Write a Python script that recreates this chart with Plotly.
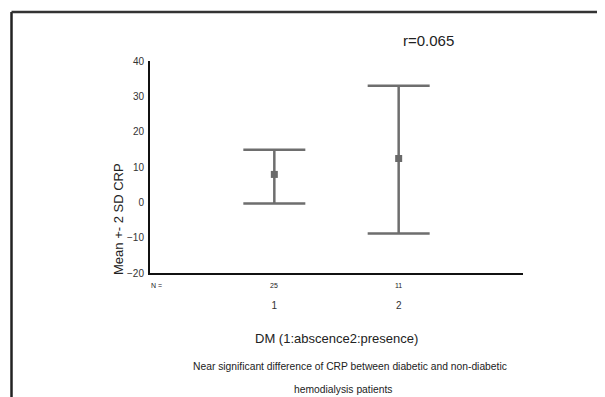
import plotly.graph_objects as go

# page body has an 8px margin; figure sized to fill the rest of the window
OFF = 8
W, H = 605 - OFF, 397 - OFF

groups = [1, 2]
group_labels = ["1", "2"]
n_counts = ["25", "11"]
means = [7.9, 12.4]
upper = [14.9, 33.0]
lower = [-0.3, -8.8]
y_ticks = [-20, -10, 0, 10, 20, 30, 40]

err_plus = [u - m for u, m in zip(upper, means)]
err_minus = [m - l for m, l in zip(means, lower)]


def px(x):
    return (x - OFF) / W


def py(y):
    return 1 - (y - OFF) / H


# plot area in window pixels
X0, X1 = 150, 523
Y0, Y1 = 61, 273

fig = go.Figure()
fig.add_trace(go.Scatter(
    x=groups, y=means, mode="markers",
    marker=dict(symbol="square", size=7, color="#6a6a6a"),
    error_y=dict(type="data", symmetric=False, array=err_plus, arrayminus=err_minus,
                 color="#6e6e6e", thickness=2.5, width=31),
    showlegend=False, hoverinfo="skip",
))

font = "Liberation Sans, Arial, sans-serif"

fig.update_layout(
    width=W, height=H,
    margin=dict(l=0, r=0, t=0, b=0, autoexpand=False),
    paper_bgcolor="white", plot_bgcolor="white",
    font=dict(family=font, color="#222"),
    xaxis=dict(domain=[px(X0), px(X1)], range=[0, 3], tickvals=groups, ticktext=group_labels,
               showgrid=False, zeroline=False, showline=True, linecolor="#111", linewidth=2,
               ticks="", tickfont=dict(size=10, color="#333"), ticklabelstandoff=22),
    yaxis=dict(domain=[py(Y1), py(Y0)], range=[-20, 40], tickvals=y_ticks,
               showgrid=False, zeroline=False, showline=True, linecolor="#111", linewidth=2,
               ticks="", tickfont=dict(size=10, color="#333"), ticklabelstandoff=2),
)


def note(x, y, text, size, xref="paper", angle=0):
    return dict(x=x, y=y, xref=xref, yref="paper", text=text, showarrow=False,
                xanchor="center", yanchor="middle", textangle=angle,
                font=dict(size=size, color="#222"))


ann = [note(px(156), py(285), "N =", 7)]
for g, n in zip(groups, n_counts):
    ann.append(note(g, py(285), n, 7, xref="x"))
ann.append(note(px(118), py(219), "Mean +- 2 SD CRP", 13, angle=-90))
ann.append(note(px(336), py(338), "DM (1:abscence2:presence)", 13))
ann.append(note(px(349.5), py(366),
                "Near significant difference of CRP between diabetic and non-diabetic", 10.3))
ann.append(note(px(343), py(389), "hemodialysis patients", 10.3))
ann.append(note(px(428.5), py(40), "r=0.065", 15))
fig.update_layout(annotations=ann)

# outer frame (left and top edges visible)
fig.add_shape(type="line", xref="paper", yref="paper", x0=px(11.5), x1=px(11.5), y0=py(12), y1=-0.2,
              line=dict(color="#222", width=2.5))
fig.add_shape(type="line", xref="paper", yref="paper", x0=px(11.5), x1=1.2, y0=py(12), y1=py(12),
              line=dict(color="#333", width=2.5))

fig.write_html("out.html")
